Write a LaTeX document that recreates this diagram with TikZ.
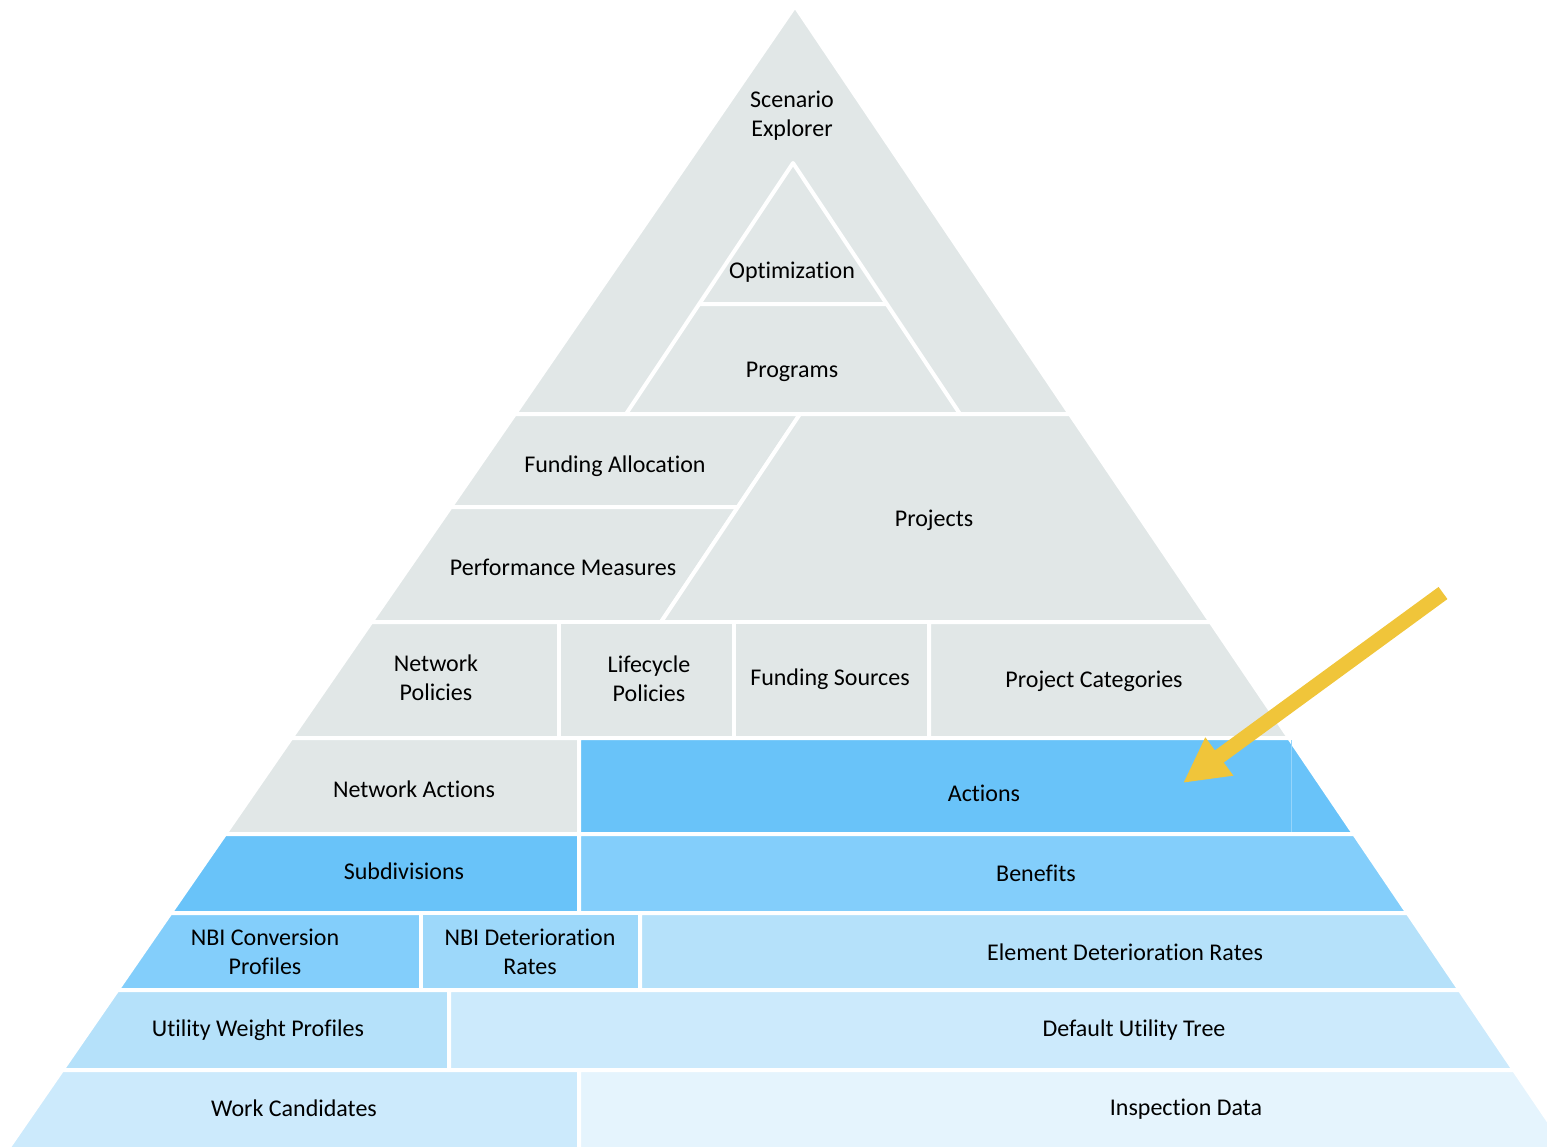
\documentclass[tikz,border=0pt]{standalone}
\usepackage{fontspec}
\setmainfont{Carlito}[Ligatures=NoCommon]
\definecolor{pyrgray}{HTML}{E1E7E7}
\definecolor{tierA}{HTML}{69C3F9}
\definecolor{tierB}{HTML}{83CEFB}
\definecolor{tierC}{HTML}{9DD8FA}
\definecolor{tierD}{HTML}{B5E1FA}
\definecolor{tierE}{HTML}{CCEAFC}
\definecolor{tierF}{HTML}{E5F4FD}
\definecolor{arrowyellow}{HTML}{F0C53A}
\usetikzlibrary{arrows.meta}

\begin{document}
\begin{tikzpicture}[x=1pt, y=-1pt,
    cell/.style={draw=white, line width=4pt, line join=round},
    celltext/.style={font=\fontsize{24}{29}\selectfont, text=black, align=center, inner sep=0pt}]
  \useasboundingbox (0,0) rectangle (1547,1146);
  \clip (0,0) rectangle (1547,1146);
  % top of the pyramid
  \path[cell, fill=pyrgray] (795,6) -- (1069.9,414) -- (514.9,414) -- cycle;
  \path[cell, fill=pyrgray] (793,163) -- (886.8,304) -- (699.2,304) -- cycle;
  \path[cell, fill=pyrgray] (699.2,304) -- (886.8,304) -- (960,414) -- (626,414) -- cycle;
  \node[celltext] (scenario) at (792,116) {Scenario\\Explorer};
  \node[celltext] (optim) at (792,272) {Optimization};
  \node[celltext] (programs) at (792,372) {Programs};
  % second tier
  \path[cell, fill=pyrgray] (514.9,414) -- (800,414) -- (738,507) -- (450.7,507) -- cycle;
  \path[cell, fill=pyrgray] (450.7,507) -- (738,507) -- (661,622) -- (371.3,622) -- cycle;
  \path[cell, fill=pyrgray] (800,414) -- (1069.9,414) -- (1210.7,622) -- (661,622) -- cycle;
  \node[celltext] (fundalloc) at (615,466) {Funding Allocation};
  \node[celltext] (perfmeas) at (563,567) {Performance Measures};
  \node[celltext] (projects) at (934,520) {Projects};
  % policies
  \path[cell, fill=pyrgray] (371.3,622) -- (559,622) -- (559,738) -- (291.3,738) -- cycle;
  \path[cell, fill=pyrgray] (559,622) rectangle (734,738);
  \path[cell, fill=pyrgray] (734,622) rectangle (929,738);
  \path[cell, fill=pyrgray] (929,622) -- (1210.7,622) -- (1289.2,738) -- (929,738) -- cycle;
  \node[celltext] (netpol) at (436,678) {Network\\Policies};
  \node[celltext] (lifepol) at (649,679) {Lifecycle\\Policies};
  \node[celltext] (fundsrc) at (830,679) {Funding Sources};
  \node[celltext] (projcat) at (1094,681) {Project Categories};
  % actions
  \path[cell, fill=pyrgray] (291.3,738) -- (579,738) -- (579,834) -- (225.1,834) -- cycle;
  \path[cell, fill=tierA] (579,738) -- (1289.2,738) -- (1354.2,834) -- (579,834) -- cycle;
  \draw[tierA!70!white, line width=1pt] (1291,740) -- (1291,832);
  \node[celltext] (netact) at (414,789) {Network Actions};
  \node[celltext] (actions) at (984,793) {Actions};
  % subdivisions and benefits
  \path[cell, fill=tierA] (225.1,834) -- (579,834) -- (579,913) -- (170.5,913) -- cycle;
  \path[cell, fill=tierB] (579,834) -- (1354.2,834) -- (1407.7,913) -- (579,913) -- cycle;
  \node[celltext] (subdiv) at (404,871) {Subdivisions};
  \node[celltext] (benefits) at (1036,873) {Benefits};
  % deterioration
  \path[cell, fill=tierB] (170.5,913) -- (421,913) -- (421,990) -- (117.4,990) -- cycle;
  \path[cell, fill=tierC] (421,913) rectangle (640,990);
  \path[cell, fill=tierD] (640,913) -- (1407.7,913) -- (1459.8,990) -- (640,990) -- cycle;
  \node[celltext] (nbiconv) at (265,952) {NBI Conversion\\Profiles};
  \node[celltext] (nbidet) at (530,952) {NBI Deterioration\\Rates};
  \node[celltext] (elemdet) at (1125,952) {Element Deterioration Rates};
  % utility
  \path[cell, fill=tierD] (117.4,990) -- (449,990) -- (449,1070) -- (62.2,1070) -- cycle;
  \path[cell, fill=tierE] (449,990) -- (1459.8,990) -- (1514,1070) -- (449,1070) -- cycle;
  \node[celltext] (utilwt) at (258,1030) {Utility Weight Profiles};
  \node[celltext] (utiltree) at (1134,1030) {Default Utility Tree};
  % base
  \path[cell, fill=tierE] (62.2,1070) -- (579,1070) -- (579,1170) -- (-6.8,1170) -- cycle;
  \path[cell, fill=tierF] (579,1070) -- (1514,1070) -- (1581.7,1170) -- (579,1170) -- cycle;
  \node[celltext] (workcand) at (294,1108) {Work Candidates};
  \node[celltext] (inspdata) at (1186,1109) {Inspection Data};
  % pointer
  \coordinate (arrowtail) at (1443,593);
  \coordinate (arrowtip) at (1183,783);
  \draw[arrowyellow, line width=15pt, -{Triangle[length=45pt, width=44pt]}] (arrowtail) -- (arrowtip);
\end{tikzpicture}
\end{document}
